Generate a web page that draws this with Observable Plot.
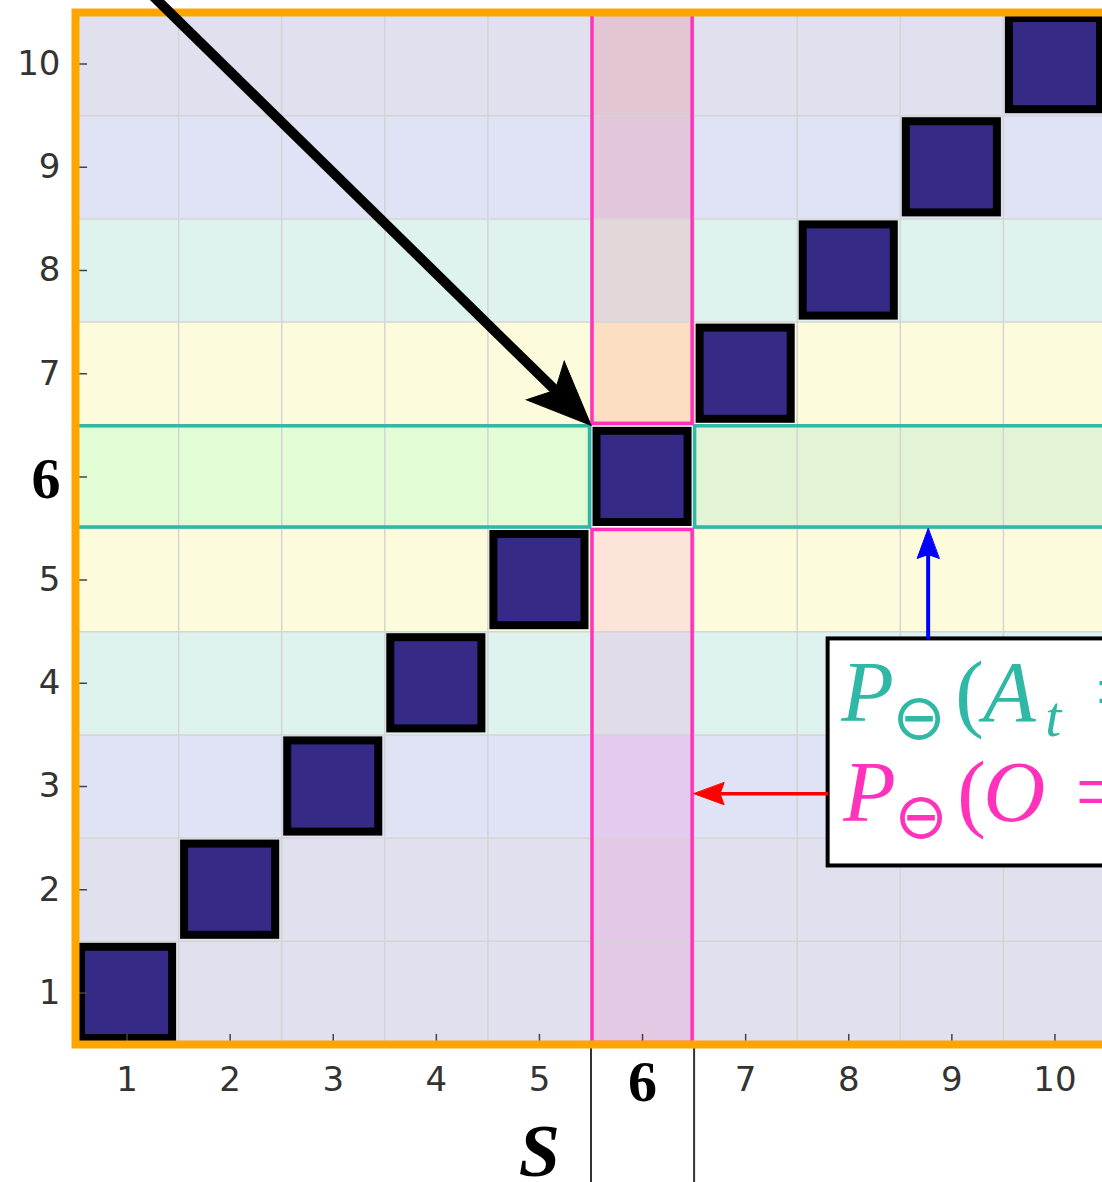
<!DOCTYPE html>
<html><head><meta charset="utf-8">
<script src="https://cdn.jsdelivr.net/npm/d3@7"></script>
<script src="https://cdn.jsdelivr.net/npm/@observablehq/plot@0.6"></script>
<style>html,body{margin:0;padding:0;overflow:hidden;background:#fff;}</style>
</head><body><div id="chart"></div><script>
// ---- data ----
const states = [1, 2, 3, 4, 5, 6, 7, 8, 9, 10];          // S (x)
const observations = [1, 2, 3, 4, 5, 6, 7, 8, 9, 10];    // O (y)
const diagonalS = [1, 2, 3, 4, 5, 6, 7, 8, 9, 10];       // emission cells S = O
const diagonalO = [1, 2, 3, 4, 5, 6, 7, 8, 9, 10];
const focus = 6;
const xTickLabels = ["1", "2", "3", "4", "5", "6", "7", "8", "9", "10"];
const yTickLabels = ["1", "2", "3", "4", "5", "6", "7", "8", "9", "10"];
const rowTone = ["lav", "lav", "blue", "mint", "yellow", "focus", "yellow", "mint", "blue", "lav"];
const columnTone = ["c1", "c2", "c3", "c4", "c5", "focus", "c7", "c8", "c9", "c10"];
const legendLines = [
  ["P", "⊖", "(", "A", "t", "="],
  ["P", "⊖", "(", "O", "="]
];

// ---- styles ----
const palette = {
  lav: "#e1e0ee", blue: "#dfe3f5", mint: "#dff3ee", yellow: "#fcfcdc",
  focusLeft: "#e2fcd6", focusRight: "#e3f3d6",
  c1: "#e3c9e4", c2: "#e3c9e7", c3: "#e2cbee", c4: "#e0dce8", c5: "#fde4da",
  c7: "#fcdfc2", c8: "#e2d8d8", c9: "#e2c6dc", c10: "#e3c5d4"
};
const navy = "#352a86", teal = "#2eb8a5", pink = "#ff33bb", orange = "#ffa500";

const lo = d3.min(states) - 0.5, hi = d3.max(states) + 0.5;
const X = {domain: [lo, hi], range: [75, 1106]};
const Y = {domain: [lo, hi], range: [1044, 12]};
const sx = Plot.scale({x: X}), sy = Plot.scale({y: Y});

function arrowMarks(a, st) {
  const x0 = sx.apply(a.x1), y0 = sy.apply(a.y1), x1 = sx.apply(a.x2), y1 = sy.apply(a.y2);
  const L = Math.hypot(x1 - x0, y1 - y0);
  const rot = Math.atan2(x1 - x0, -(y1 - y0)) * 180 / Math.PI;
  const hl = st.headLength, hw = st.headWidth, notch = st.notch;
  const shaft = {draw(ctx, l) { ctx.moveTo(0, 0); ctx.lineTo(0, -(l - hl * 0.6)); }};
  const head = {draw(ctx, l) {
    ctx.moveTo(0, -l); ctx.lineTo(-hw, -l + hl); ctx.lineTo(0, -l + hl - notch);
    ctx.lineTo(hw, -l + hl); ctx.closePath();
  }};
  return [
    Plot.vector([a], {x: d => d.x2, y: d => d.y2, anchor: "end", length: L, rotate: rot, shape: shaft,
      stroke: st.color, strokeWidth: st.width, strokeLinecap: "butt"}),
    Plot.vector([a], {x: d => d.x2, y: d => d.y2, anchor: "end", length: L, rotate: rot, shape: head,
      fill: st.color, stroke: st.color, strokeWidth: 1, strokeLinejoin: "miter"})
  ];
}

const lineShape = {draw(ctx, l) { ctx.moveTo(0, 0); ctx.lineTo(0, -l); }};

const otherRows = observations.filter(o => o !== focus);
const focusRowParts = [
  {x1: lo, x2: focus - 0.5, tone: "focusLeft"},
  {x1: focus + 0.5, x2: hi, tone: "focusRight"}
];
const focusColParts = [
  {y1: focus + 0.5, y2: hi},
  {y1: lo, y2: focus - 0.5}
];
const diag = diagonalS.map((s, i) => ({s, o: diagonalO[i]}));

// annotation geometry (data coordinates)
const legendBox = {x1: 7.8, x2: 11.5, y1: 2.23, y2: 4.43};
const bigArrow = {x1: 0.7, y1: 11.2, x2: focus - 0.5, y2: focus + 0.5};
const blueArrow = {x1: 8.77, y1: legendBox.y2, x2: 8.77, y2: focus - 0.5};
const redArrow = {x1: legendBox.x1, y1: 2.93, x2: focus + 0.5, y2: 2.93};

const pieceLayout = [
  [ {dx: 13, dy: 82, size: 86, italic: true},
    {dx: 91, dy: 80, size: 64, sym: true},
    {dx: 127, dy: 82, size: 86},
    {dx: 155, dy: 82, size: 86, italic: true},
    {dx: 217, dy: 97, size: 58, italic: true},
    {dx: 267, dy: 82, size: 86} ],
  [ {dx: 15, dy: 182, size: 86, italic: true},
    {dx: 93, dy: 179, size: 64, sym: true},
    {dx: 129, dy: 182, size: 86},
    {dx: 155, dy: 182, size: 86, italic: true},
    {dx: 247, dy: 182, size: 86} ]
];
const lineColors = [teal, pink];
const legendMarks = [];
legendLines.forEach((line, li) => line.forEach((t, pi) => {
  const p = pieceLayout[li][pi];
  legendMarks.push(Plot.text([t], {
    x: legendBox.x1, y: legendBox.y2, text: d => d, dx: p.dx, dy: p.dy,
    fontSize: p.size, fill: lineColors[li],
    fontFamily: p.sym ? "DejaVu Sans" : "Liberation Serif",
    fontStyle: p.italic ? "italic" : "normal",
    textAnchor: p.sym ? "middle" : "start",
    lineAnchor: p.sym ? "middle" : "bottom"
  }));
}));

const plot = Plot.plot({
  width: 1106, height: 1182,
  marginLeft: 75, marginRight: 0, marginTop: 12, marginBottom: 138,
  x: {...X, axis: null},
  y: {...Y, axis: null},
  color: {type: "identity"},
  style: {maxWidth: "none", background: "white"},
  marks: [
    // row backgrounds
    Plot.rect(otherRows, {x1: lo, x2: hi, y1: o => o - 0.5, y2: o => o + 0.5, fill: o => palette[rowTone[o - 1]]}),
    Plot.rect(focusRowParts, {x1: "x1", x2: "x2", y1: focus - 0.5, y2: focus + 0.5, fill: d => palette[d.tone]}),
    // focus column
    Plot.rect(otherRows, {x1: focus - 0.5, x2: focus + 0.5, y1: o => o - 0.5, y2: o => o + 0.5, fill: o => palette[columnTone[o - 1]]}),
    // grid
    Plot.ruleX(states.slice(1).map(s => s - 0.5), {stroke: "#d4d4d4", strokeWidth: 1.5}),
    Plot.ruleY(observations.slice(1).map(o => o - 0.5), {stroke: "#d4d4d4", strokeWidth: 1.5}),
    // highlight borders
    Plot.rect(focusRowParts, {x1: "x1", x2: "x2", y1: focus - 0.5, y2: focus + 0.5, fill: "none", stroke: teal, strokeWidth: 3.5, inset: 1}),
    Plot.rect(focusColParts, {x1: focus - 0.5, x2: focus + 0.5, y1: "y1", y2: "y2", fill: "none", stroke: pink, strokeWidth: 3.5, inset: 1.5}),
    // diagonal squares
    Plot.rect(diag, {x1: d => d.s - 0.5, x2: d => d.s + 0.5, y1: d => d.o - 0.5, y2: d => d.o + 0.5,
      fill: navy, stroke: "black", strokeWidth: 8, inset: 6}),
    // ticks
    Plot.vector(observations, {x: lo, y: o => o, anchor: "start", rotate: 90, length: 11, shape: lineShape, stroke: "#444", strokeWidth: 1.5}),
    Plot.vector(states, {x: s => s, y: lo, anchor: "start", rotate: 0, length: 10, shape: lineShape, stroke: "#444", strokeWidth: 1.5}),
    // separators under the x axis
    Plot.ruleX([focus - 0.5, focus + 0.5], {y1: lo, y2: lo - 1.4, stroke: "#333", strokeWidth: 2}),
    // frame
    Plot.frame({stroke: orange, strokeWidth: 8}),
    // tick labels
    Plot.text(observations.filter(o => o !== focus), {x: lo, y: o => o, text: o => yTickLabels[o - 1], textAnchor: "end", dx: -15,
      fontSize: 34, fontFamily: "DejaVu Sans", fill: "#333"}),
    Plot.text(states.filter(s => s !== focus), {x: s => s, y: lo, text: s => xTickLabels[s - 1], dy: 36,
      fontSize: 34, fontFamily: "DejaVu Sans", fill: "#333"}),
    Plot.text([focus], {x: lo, y: d => d, text: d => yTickLabels[d - 1], textAnchor: "end", dx: -15, dy: 3,
      fontSize: 58, fontWeight: "bold", fontFamily: "Liberation Serif", fill: "black"}),
    Plot.text([focus], {x: d => d, y: lo, text: d => xTickLabels[d - 1], dy: 38,
      fontSize: 58, fontWeight: "bold", fontFamily: "Liberation Serif", fill: "black"}),
    // axis label
    Plot.text(["S"], {x: (states[0] + states[states.length - 1]) / 2 - 0.5, y: lo, text: d => d, dy: 131, lineAnchor: "bottom",
      fontSize: 74, fontStyle: "italic", fontWeight: "bold", fontFamily: "Liberation Serif", fill: "black"}),
    // legend box
    Plot.rect([legendBox], {x1: "x1", x2: "x2", y1: "y1", y2: "y2", fill: "white", stroke: "black", strokeWidth: 4}),
    ...legendMarks,
    ...arrowMarks(blueArrow, {color: "#0000ff", width: 4, headLength: 30, headWidth: 11, notch: 4}),
    ...arrowMarks(redArrow, {color: "#ff0000", width: 3.5, headLength: 30, headWidth: 11, notch: 4}),
    ...arrowMarks(bigArrow, {color: "black", width: 10, headLength: 64, headWidth: 27, notch: 14})
  ]
});
document.getElementById("chart").appendChild(plot);
</script></body></html>
